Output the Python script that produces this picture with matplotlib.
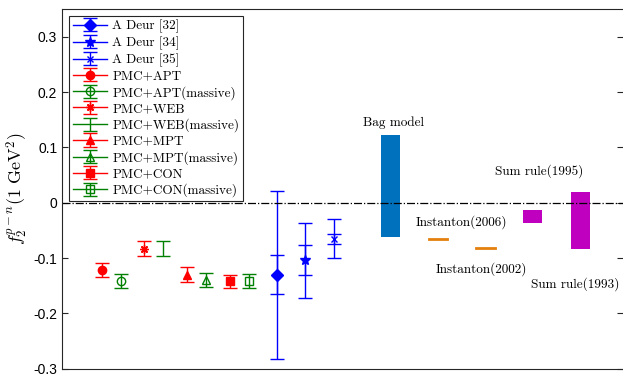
import matplotlib
matplotlib.use('Agg')
import matplotlib.pyplot as plt

plt.rcParams['mathtext.fontset'] = 'cm'
plt.rcParams['axes.unicode_minus'] = False

# theory points (PMC), value and error
pmc_labels = ['PMC+APT', 'PMC+APT(massive)', 'PMC+WEB', 'PMC+WEB(massive)',
              'PMC+MPT', 'PMC+MPT(massive)', 'PMC+CON', 'PMC+CON(massive)']
pmc_x = [0.9, 1.3, 1.8, 2.2, 2.7, 3.1, 3.6, 4.0]
pmc_y = [-0.121, -0.141, -0.083, -0.083, -0.130, -0.140, -0.142, -0.142]
pmc_err = [0.013, 0.013, 0.0135, 0.0135, 0.0135, 0.013, 0.012, 0.0125]

# experimental points: value, stat error, total error
deur_labels = ['A Deur [32]', 'A Deur [34]', 'A Deur [35]']
deur_x = [4.6, 5.2, 5.8]
deur_y = [-0.13, -0.104, -0.065]
deur_stat = [0.035, 0.027, 0.009]
deur_tot = [0.152, 0.068, 0.035]

# model bands: (top, bottom)
band_names = ['Bag model', 'Instanton(2006)', 'Instanton(2002)', 'Sum rule(1995)', 'Sum rule(1993)']
band_x = [7, 8, 9, 10, 11]
band_top = [0.122, -0.064, -0.080, -0.013, 0.019]
band_bot = [-0.061, -0.068, -0.084, -0.036, -0.084]
# where the band names sit
name_x = [7.06, 8.5, 8.91, 10.13, 10.9]
name_y = [0.145, -0.035, -0.12, 0.057, -0.147]

fig = plt.figure(figsize=(6.23, 3.81), dpi=100)
ax = fig.add_axes([0.0995, 0.032, 0.9, 0.944])

cm = {'family': 'cmr10', 'size': 9.5}

deur_markers = ['D', '*', 'x']
deur_ms = [6, 7, 5]
for i in range(3):
    ax.errorbar([deur_x[i]], [deur_y[i]], yerr=[deur_tot[i]], fmt=deur_markers[i], ls='-',
                color='b', ms=deur_ms[i], capsize=5, elinewidth=1, lw=1, label=deur_labels[i])
    ax.errorbar([deur_x[i]], [deur_y[i]], yerr=[deur_stat[i]], fmt='none',
                ecolor='b', capsize=5, elinewidth=1)

pmc_markers = ['o', 'o', (8, 2, 0), None, '^', '^', 's', 's']
pmc_colors = ['r', 'g', 'r', 'g', 'r', 'g', 'r', 'g']
for i in range(8):
    filled = pmc_colors[i] == 'r'
    mk = pmc_markers[i] if pmc_markers[i] is not None else 'none'
    ax.errorbar([pmc_x[i]], [pmc_y[i]], yerr=[pmc_err[i]], marker=mk, ls='-',
                color=pmc_colors[i], mfc=pmc_colors[i] if filled else 'none',
                ms=6, capsize=5, elinewidth=1, lw=1, label=pmc_labels[i])

band_colors = ['#0072BD', '#E3800E', '#E3800E', '#BF00BF', '#BF00BF']
for i in range(5):
    h = max(band_top[i] - band_bot[i], 0.0)
    if h < 0.006:
        ax.plot([band_x[i] - 0.2, band_x[i] + 0.2], [band_top[i] - 0.002] * 2,
                color=band_colors[i], lw=2)
    else:
        ax.bar(band_x[i], h, width=0.4, bottom=band_bot[i], color=band_colors[i])
    ax.text(name_x[i], name_y[i], band_names[i], fontdict=cm, ha='center', va='center')

ax.axhline(0, color='k', ls='-.', lw=0.9)

ax.set_xlim(0.06, 11.9)
ax.set_ylim(-0.3, 0.35)
ax.set_yticks([-0.3, -0.2, -0.1, 0, 0.1, 0.2, 0.3])
ax.set_yticklabels(['-0.3', '-0.2', '-0.1', '0', '0.1', '0.2', '0.3'],
                   fontfamily='Liberation Sans', fontsize=10)
ax.set_xticks([])
ax.tick_params(axis='y', direction='in', length=4, right=True, width=0.8, color='#262626')
for s in ['left', 'bottom', 'top']:
    ax.spines[s].set_color('#262626')
    ax.spines[s].set_linewidth(0.8)
ax.spines['right'].set_visible(False)

ax.set_ylabel(r'$f_2^{p-n}(1\ \mathrm{GeV}^2)$', fontsize=13, labelpad=2)

leg = ax.legend(loc='upper left', prop={'family': 'cmr10', 'size': 9.5},
                handlelength=2.6, labelspacing=0.25, borderpad=0.3,
                fancybox=False, edgecolor='#262626', framealpha=1,
                handletextpad=0.4, borderaxespad=0.5)
leg.get_frame().set_linewidth(0.8)

fig.savefig('out.png', dpi=100)
